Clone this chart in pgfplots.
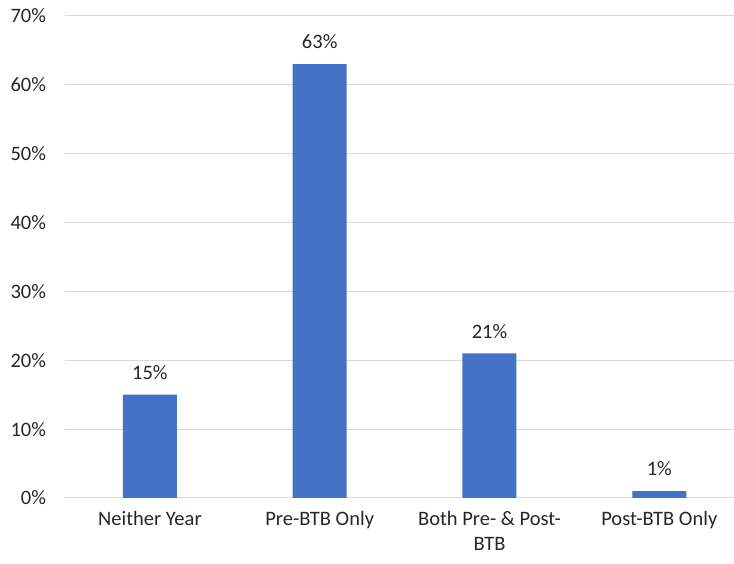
\documentclass[border=0pt]{standalone}
\usepackage{fontspec}
\setmainfont{Carlito}
\usepackage{pgfplots}
\pgfplotsset{compat=1.18}
\usetikzlibrary{calc}
\definecolor{barblue}{HTML}{4472C4}
\definecolor{gridgray}{HTML}{D9D9D9}
\definecolor{labelgray}{HTML}{262626}
\begin{document}
\fontsize{20.5}{25}\selectfont
\begin{tikzpicture}
\begin{axis}[
  scale only axis,
  width=669pt, height=482pt,
  xmin=-0.5, xmax=3.44,
  ymin=0, ymax=70,
  ytick={0,10,...,70},
  yticklabel={\pgfmathprintnumber{\tick}\%},
  /pgf/number format/assume math mode=true,
  xtick={0,1,2,3},
  xticklabels={Neither Year, Pre-BTB Only, {Both Pre- \& Post-\\BTB}, Post-BTB Only},
  xticklabel style={align=center, font=\fontsize{20.5}{25}\selectfont, text=labelgray, yshift=-6pt},
  yticklabel style={font=\fontsize{20.5}{25}\selectfont, text=labelgray, xshift=-12pt},
  major tick length=0pt,
  ymajorgrids, grid style={gridgray, line width=1pt},
  axis x line*=bottom, axis y line*=left,
  x axis line style={gridgray, line width=1pt, -},
  y axis line style={draw=none},
  clip=false,
  ybar, bar width=54pt,
  nodes near coords={\pgfmathprintnumber{\pgfplotspointmeta}\%},
  nodes near coords style={font=\fontsize{20.5}{25}\selectfont, text=labelgray, yshift=8pt},
  point meta=explicit,
]
\addplot[fill=barblue, draw=none] coordinates {
  (0,15) [15]
  (1,63) [63]
  (2,21) [21]
  (3,1) [1]
};
\coordinate (ll) at (rel axis cs:0,0);
\coordinate (ur) at (rel axis cs:1,1);
\end{axis}
\pgfresetboundingbox
\path[use as bounding box] ($(ll)+(-65pt,-66pt)$) rectangle ($(ur)+(0pt,16pt)$);
\end{tikzpicture}
\end{document}
